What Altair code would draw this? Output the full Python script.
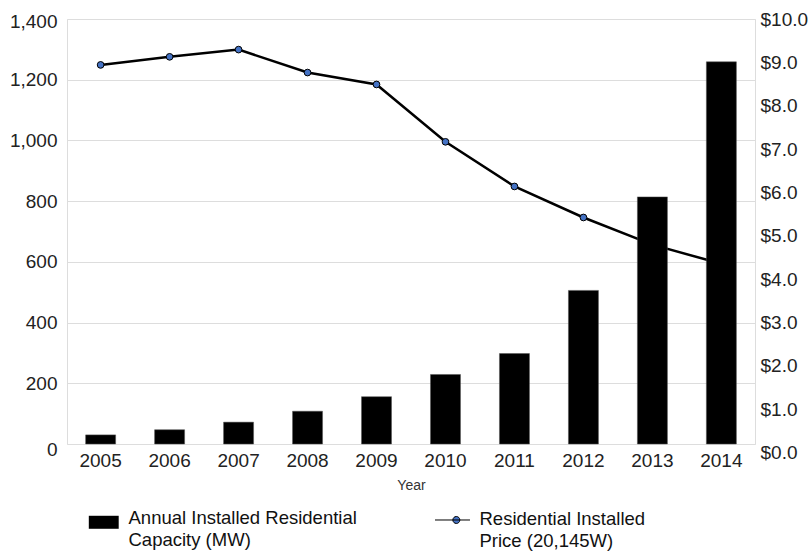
import altair as alt
import pandas as pd

years = ["2005", "2006", "2007", "2008", "2009", "2010", "2011", "2012", "2013", "2014"]
capacity_mw = [30, 47, 72, 108, 156, 229, 298, 506, 814, 1259]
price_per_w = [8.92, 9.11, 9.28, 8.74, 8.46, 7.11, 6.06, 5.33, 4.69, 4.24]
left_ticks = [0, 200, 400, 600, 800, 1000, 1200, 1400]
right_ticks = [0, 1, 2, 3, 4, 5, 6, 7, 8, 9, 10]
bar_label = "Annual Installed Residential|Capacity (MW)"
line_label = "Residential Installed|Price (20,145W)"

df = pd.DataFrame({
    "Year": years,
    "Capacity": capacity_mw,
    "Price": price_per_w,
    "BarSeries": [bar_label] * len(years),
    "LineSeries": [line_label] * len(years),
})

FONT = "Liberation Sans"

x_enc = alt.X(
    "Year:N",
    sort=years,
    scale=alt.Scale(paddingInner=0.565, paddingOuter=0.27),
    axis=alt.Axis(
        title="Year", titleFontSize=14, titleFont=FONT, titleFontWeight="normal",
        titleColor="#333", titlePadding=8,
        labelFontSize=19, labelFont=FONT, labelColor="#222", labelAngle=0,
        labelPadding=7, ticks=False, domain=False, grid=False,
    ),
)

line = alt.Chart(df).mark_line(
    strokeWidth=2.5,
    point=alt.OverlayMarkDef(filled=True, fill="#4472C4", stroke="#1a1a1a",
                             strokeWidth=1, size=45, opacity=1),
).encode(
    x=x_enc,
    y=alt.Y(
        "Price:Q",
        scale=alt.Scale(domain=[0, 10], nice=False),
        axis=alt.Axis(
            orient="right", title=None, values=right_ticks, format="$.1f",
            labelFontSize=19, labelFont=FONT, labelColor="#222",
            labelPadding=5, ticks=False, domain=False, grid=False,
            labelOffset=alt.ExprRef(expr="(10 - datum.value) * 0.85"),
        ),
    ),
    stroke=alt.Stroke(
        "LineSeries:N",
        scale=alt.Scale(range=["black"]),
        legend=alt.Legend(
            title=None, orient="none", legendX=376, legendY=490,
            symbolType="M-2,0.17H2M0.04,0.17A0.4,0.4 0 1,1 0.84,0.17A0.4,0.4 0 1,1 0.04,0.17Z",
            symbolSize=306, symbolFillColor="black", symbolStrokeColor="#555",
            symbolStrokeWidth=1,
            labelExpr="split(datum.label, '|')",
            labelFontSize=18.5, labelFont=FONT, labelColor="#111",
            labelOffset=17.5, labelLimit=400, padding=0,
        ),
    ),
)

bars = alt.Chart(df).mark_bar(stroke="#555", strokeWidth=0.5).encode(
    x=x_enc,
    y=alt.Y(
        "Capacity:Q",
        scale=alt.Scale(domain=[0, 1400], nice=False),
        axis=alt.Axis(
            orient="left", title=None, values=left_ticks, format=",d",
            labelFontSize=19, labelFont=FONT, labelColor="#222",
            labelPadding=10, ticks=False, domain=False, grid=True,
            gridColor="#dddddd", gridWidth=1,
            labelOffset=alt.ExprRef(expr="datum.value == 0 ? 5 : (datum.value == 1400 ? 2 : 0)"),
        ),
    ),
    fill=alt.Fill(
        "BarSeries:N",
        scale=alt.Scale(range=["black"]),
        legend=alt.Legend(
            title=None, orient="none", legendX=27.5, legendY=490,
            symbolType="M-2.3,-0.38H2.3V1.62H-2.3Z", symbolSize=169,
            symbolStrokeWidth=0,
            labelExpr="split(datum.label, '|')",
            labelFontSize=18.5, labelFont=FONT, labelColor="#111",
            labelOffset=15.5, labelLimit=400, padding=0,
        ),
    ),
)

chart = alt.layer(line, bars).resolve_scale(y="independent").properties(
    width=688,
    height=425,
    autosize=alt.AutoSizeParams(type="none"),
    padding={"left": 67, "top": 19, "right": 56, "bottom": 107},
).configure_view(stroke=None).configure(
    style={"guide-label": {"lineHeight": 22}}
)

chart.save("out.html", embed_options={"renderer": "svg", "actions": False})
